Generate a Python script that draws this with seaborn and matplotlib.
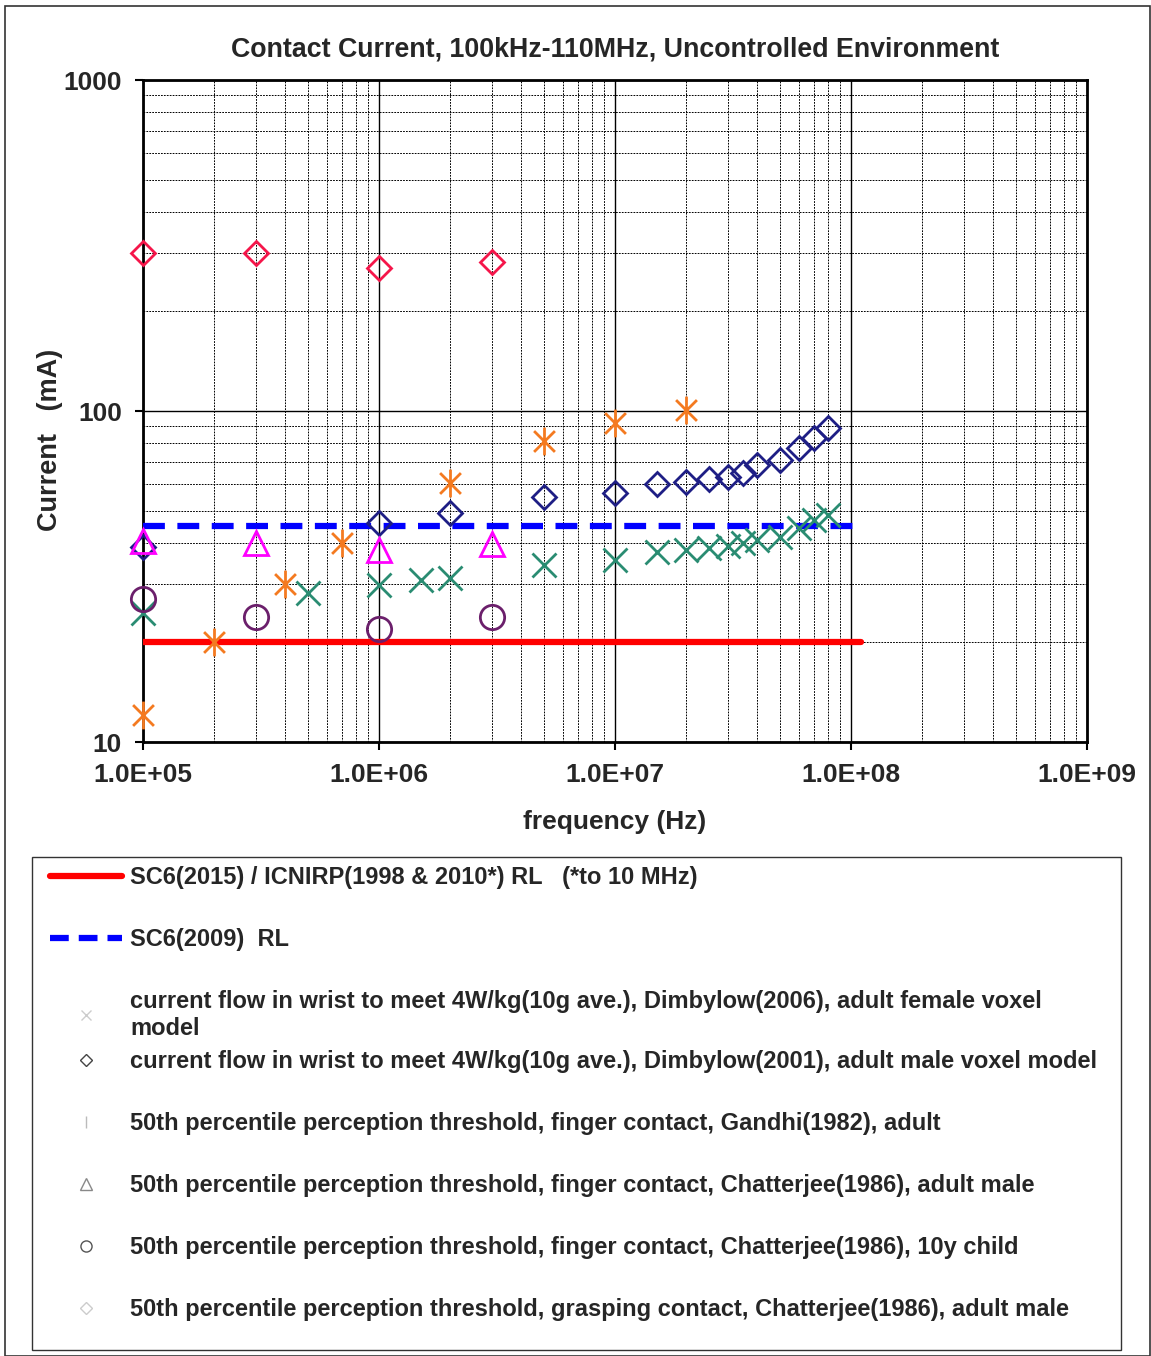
import matplotlib
matplotlib.use("Agg")
from matplotlib import pyplot as plt
from matplotlib.lines import Line2D
from matplotlib.patches import Rectangle
from matplotlib.path import Path
import matplotlib.ticker as mtick
import numpy as np
import pandas as pd
import seaborn as sns

# reference levels (mA)
freq_rl = [1e5, 1.1e8]
sc6_2015 = [20, 20]
sc6_2009 = [45, 45]

# Dimbylow(2006), adult female voxel
freq_female = [1e5, 5e5, 1e6, 1.5e6, 2e6, 5e6, 1e7, 1.5e7, 2e7, 2.5e7, 3e7, 3.5e7, 4e7, 5e7, 6e7, 7e7, 8e7]
cur_female = [24.5, 28.1, 29.8, 30.8, 31.2, 34.3, 35.5, 37.6, 38.0, 38.5, 39.2, 39.8, 40.9, 41.7, 44.2, 46.9, 48.5]

# Dimbylow(2001), adult male voxel
freq_male = [1e5, 1e6, 2e6, 5e6, 1e7, 1.5e7, 2e7, 2.5e7, 3e7, 3.5e7, 4e7, 5e7, 6e7, 7e7, 8e7]
cur_male = [38.8, 46.0, 49.3, 54.9, 56.4, 60.1, 61.2, 62.2, 63.4, 64.9, 68.7, 71.2, 77.1, 82.7, 88.7]

# Gandhi(1982), finger contact
freq_gandhi = [1e5, 2e5, 4e5, 7e5, 2e6, 5e6, 1e7, 2e7]
cur_gandhi = [12.1, 20.0, 30.0, 40.0, 60.5, 81.0, 92.0, 101.0]

# Chatterjee(1986) finger contact, adult male / 10y child, grasping contact
freq_chat = [1e5, 3e5, 1e6, 3e6]
cur_chat_male = [40.5, 39.8, 37.9, 39.6]
cur_chat_child = [27.0, 23.9, 21.9, 23.9]
cur_chat_grasp = [300, 300, 270, 282]

labels = [
    "SC6(2015) / ICNIRP(1998 & 2010*) RL   (*to 10 MHz)",
    "SC6(2009)  RL",
    "current flow in wrist to meet 4W/kg(10g ave.), Dimbylow(2006), adult female voxel\nmodel",
    "current flow in wrist to meet 4W/kg(10g ave.), Dimbylow(2001), adult male voxel model",
    "50th percentile perception threshold, finger contact, Gandhi(1982), adult",
    "50th percentile perception threshold, finger contact, Chatterjee(1986), adult male",
    "50th percentile perception threshold, finger contact, Chatterjee(1986), 10y child",
    "50th percentile perception threshold, grasping contact, Chatterjee(1986), adult male",
]

sns.set_theme(style="white")
plt.rcParams["font.family"] = ["Liberation Sans", "DejaVu Sans"]
plt.rcParams["font.weight"] = "bold"

# excel style asterisk: vertical bar plus an X
ast = Path([(0, -1), (0, 1), (-0.75, -0.75), (0.75, 0.75), (-0.75, 0.75), (0.75, -0.75)],
           [Path.MOVETO, Path.LINETO, Path.MOVETO, Path.LINETO, Path.MOVETO, Path.LINETO])

fig = plt.figure(figsize=(11.51, 13.56), dpi=100)
ax = fig.add_axes([0.1242, 0.4528, 0.8202, 0.4882])
ax.set_xscale("log")
ax.set_yscale("log")

# limit lines
sns.lineplot(x=freq_rl, y=sc6_2015, ax=ax, color="#FF0000", lw=4.5, legend=False,
             estimator=None, zorder=3)
sns.lineplot(x=freq_rl, y=sc6_2009, ax=ax, color="#0000FF", lw=4.5, legend=False,
             estimator=None, zorder=3)
ax.lines[-1].set_dashes((3.5, 2.0))

mk = dict(ls="none", legend=False, estimator=None, sort=False, clip_on=False, zorder=4)
sns.lineplot(x=freq_female, y=cur_female, ax=ax, marker="x", ms=17, mew=2,
             color="#2A8C72", mec="#2A8C72", **mk)
sns.lineplot(x=freq_male, y=cur_male, ax=ax, marker="D", ms=12.5, mew=2,
             color="#1E1E85", mfc="none", mec="#1E1E85", **mk)
sns.lineplot(x=freq_gandhi, y=cur_gandhi, ax=ax, marker=ast, ms=20, mew=2,
             color="#F47A20", mec="#F47A20", **mk)
sns.lineplot(x=freq_chat, y=cur_chat_male, ax=ax, marker="^", ms=17, mew=2,
             color="#FF00FF", mfc="none", mec="#FF00FF", **mk)
sns.lineplot(x=freq_chat, y=cur_chat_child, ax=ax, marker="o", ms=17.5, mew=2,
             color="#6B1F6B", mfc="none", mec="#6B1F6B", **mk)
sns.lineplot(x=freq_chat, y=cur_chat_grasp, ax=ax, marker="D", ms=12.5, mew=2,
             color="#F5164A", mfc="none", mec="#F5164A", **mk)

ax.set_xlim(1e5, 1e9)
ax.set_ylim(10, 1000)
ax.xaxis.set_major_locator(mtick.LogLocator(base=10, numticks=10))
ax.xaxis.set_minor_locator(mtick.LogLocator(base=10, subs=np.arange(2, 10), numticks=20))
ax.yaxis.set_major_locator(mtick.FixedLocator([10, 100, 1000]))
ax.yaxis.set_minor_locator(mtick.LogLocator(base=10, subs=np.arange(2, 10), numticks=20))
ax.xaxis.set_major_formatter(mtick.FuncFormatter(lambda v, p: "%.1fE+%02d" % (1.0, round(np.log10(v)))))
ax.yaxis.set_major_formatter(mtick.FuncFormatter(lambda v, p: "%d" % round(v)))
ax.xaxis.set_minor_formatter(mtick.NullFormatter())
ax.yaxis.set_minor_formatter(mtick.NullFormatter())

ax.grid(which="major", color="black", lw=1.0, ls="-")
ax.grid(which="minor", color="black", lw=0.7, ls=(0, (1.8, 1.2)))
ax.tick_params(which="major", length=6, width=1.5, direction="out", labelsize=19,
               color="black", pad=9, bottom=True, left=True)
ax.tick_params(which="minor", length=0)
for t in ax.get_xticklabels() + ax.get_yticklabels():
    t.set_fontweight("bold")
for s in ax.spines.values():
    s.set_color("black")
    s.set_linewidth(2)

ax.set_title("Contact Current, 100kHz-110MHz, Uncontrolled Environment",
             fontsize=19.3, fontweight="bold", pad=17)
ax.set_xlabel("frequency (Hz)", fontsize=19, fontweight="bold", labelpad=17)
ax.set_ylabel("Current   (mA)", fontsize=19.5, fontweight="bold")
ax.yaxis.set_label_coords(-0.085, 0.456)

# outer frame and legend frame
fig.patches.append(Rectangle((5 / 1151, 0), 1145 / 1151, 1350 / 1356, transform=fig.transFigure,
                             fill=False, ec="#333333", lw=1.2))
fig.patches.append(Rectangle((32 / 1151, 6 / 1356), 1089 / 1151, 493 / 1356, transform=fig.transFigure,
                             fill=False, ec="#333333", lw=1.0))

h_top = [
    Line2D([], [], color="#FF0000", lw=4.5),
    Line2D([], [], color="#0000FF", lw=4.5, dashes=(3.0, 1.6)),
    Line2D([], [], ls="none", marker="x", color="#cccccc", ms=7, mew=1),
]
h_bot = [
    Line2D([], [], ls="none", marker="D", color="#444444", mfc="none", ms=6, mew=1),
    Line2D([], [], ls="none", marker="|", color="#bbbbbb", ms=9, mew=1),
    Line2D([], [], ls="none", marker="^", color="#888888", mfc="none", ms=8, mew=1),
    Line2D([], [], ls="none", marker="o", color="#555555", mfc="none", ms=8, mew=1),
    Line2D([], [], ls="none", marker="D", color="#cccccc", mfc="none", ms=6, mew=1),
]
leg_kw = dict(loc="upper left", frameon=False, handlelength=3.05, handletextpad=0.34,
              borderpad=0, borderaxespad=0, labelspacing=1.65,
              prop={"size": 17, "weight": "bold"})
fig.legend(handles=h_top, labels=labels[:3], bbox_to_anchor=(50 / 1151, 1 - 866 / 1356), **leg_kw)
fig.legend(handles=h_bot, labels=labels[3:], bbox_to_anchor=(50 / 1151, 1 - 1050 / 1356), **leg_kw)

plt.savefig("out.png", dpi=100)
